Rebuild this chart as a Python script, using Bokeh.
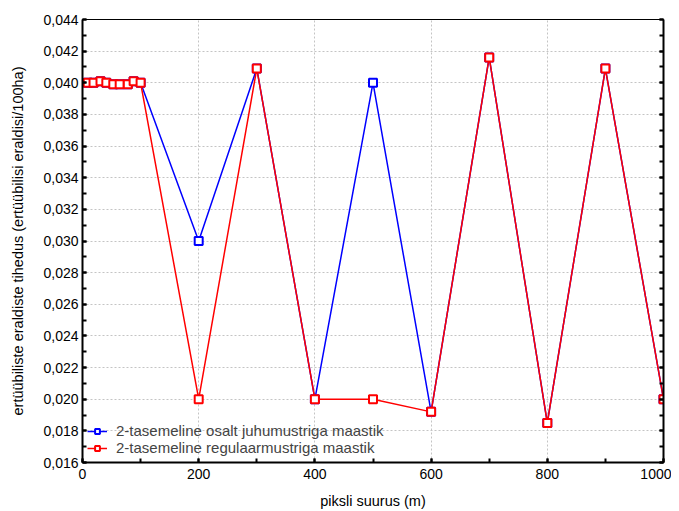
from bokeh.plotting import figure
from bokeh.models import LinearAxis, CustomJSTickFormatter, Range1d, Legend, LegendItem, FixedTicker
from bokeh.embed import file_html
from bokeh.resources import INLINE

x_vals = [9, 19, 31, 41, 53, 64, 78, 88, 100, 200, 300, 400, 500, 600, 700, 800, 900, 1000]
blue_y = [0.0400, 0.0400, 0.0401, 0.0400, 0.0399, 0.0399, 0.0399, 0.0401, 0.0400,
          0.0300, 0.0409, 0.0200, 0.0400, 0.0192, 0.0416, 0.0185, 0.0409, 0.0200]
red_y = [0.0400, 0.0400, 0.0401, 0.0400, 0.0399, 0.0399, 0.0399, 0.0401, 0.0400,
         0.0200, 0.0409, 0.0200, 0.0200, 0.0192, 0.0416, 0.0185, 0.0409, 0.0200]
blue_label = "2-tasemeline osalt juhumustriga maastik"
red_label = "2-tasemeline regulaarmustriga maastik"
x_title = "piksli suurus (m)"
y_title = "ertüübiliste eraldiste tihedus (ertüübilisi eraldisi/100ha)"
x_ticks = [0, 200, 400, 600, 800, 1000]
y_ticks = [0.016, 0.018, 0.020, 0.022, 0.024, 0.026, 0.028, 0.030, 0.032, 0.034, 0.036, 0.038, 0.040, 0.042, 0.044]

FONT = "Liberation Sans"

p = figure(width=671, height=511, output_backend="svg", toolbar_location=None,
           x_range=Range1d(0, 1000), y_range=Range1d(0.016, 0.044),
           min_border_left=82, min_border_top=19, min_border_right=8, min_border_bottom=47)

p.outline_line_color = "black"
p.outline_line_width = 1
p.background_fill_color = "white"
p.border_fill_color = "white"

for ax in (p.xaxis[0], p.yaxis[0]):
    ax.axis_line_width = 2
    ax.axis_line_color = "black"
    ax.major_tick_in = 4
    ax.major_tick_out = 0
    ax.minor_tick_in = 4
    ax.minor_tick_out = 0
    ax.major_tick_line_width = 2
    ax.minor_tick_line_width = 2
    ax.major_label_text_font = FONT
    ax.major_label_text_font_size = "14px"
    ax.major_label_text_color = "black"
    ax.axis_label_text_font = FONT
    ax.axis_label_text_font_size = "14.5px"
    ax.axis_label_text_font_style = "normal"
    ax.axis_label_text_color = "black"

p.xaxis.ticker = FixedTicker(ticks=x_ticks, minor_ticks=list(range(0, 1001, 100)))
p.yaxis.ticker = FixedTicker(ticks=y_ticks, minor_ticks=[0.016 + 0.001 * i for i in range(29)])
p.xaxis.axis_label = x_title
p.yaxis.axis_label = y_title
p.xaxis.major_label_standoff = 6
p.yaxis.major_label_standoff = 4
p.xaxis.axis_label_standoff = 11
p.yaxis.axis_label_standoff = 14
p.yaxis.formatter = CustomJSTickFormatter(code="return tick.toFixed(3).replace('.', ',');")

right = LinearAxis(ticker=FixedTicker(ticks=y_ticks, minor_ticks=[0.016 + 0.001 * i for i in range(29)]),
                   axis_line_width=2, major_tick_in=4, major_tick_out=0, minor_tick_in=4, minor_tick_out=0,
                   major_tick_line_width=2, minor_tick_line_width=2,
                   formatter=CustomJSTickFormatter(code="return '';"),
                   major_label_standoff=0)
p.add_layout(right, "right")

p.xgrid.ticker = FixedTicker(ticks=x_ticks)
p.ygrid.ticker = FixedTicker(ticks=y_ticks)
for g in (p.xgrid[0], p.ygrid[0]):
    g.grid_line_color = "#c4c4c4"
    g.grid_line_dash = "2 2"
    g.grid_line_width = 1

bl = p.line(x_vals, blue_y, line_color="#0000ff", line_width=1.5)
bm = p.scatter(x_vals, blue_y, marker="square", size=8, line_color="#0000ff", line_width=2, fill_color="white")
rl = p.line(x_vals, red_y, line_color="#ff0000", line_width=1.5)
rm = p.scatter(x_vals, red_y, marker="square", size=8, line_color="#ff0000", line_width=2, fill_color="white")

legend = Legend(items=[LegendItem(label=blue_label, renderers=[bl, bm]),
                       LegendItem(label=red_label, renderers=[rl, rm])],
                location=(5, 6), border_line_color=None, background_fill_alpha=0,
                label_text_font=FONT, label_text_font_size="15px", label_height=12,
                glyph_height=12, glyph_width=20, spacing=-5, padding=2, margin=4,
                label_standoff=9)
p.add_layout(legend, "center")

open("out.html", "w").write(file_html(p, INLINE))
